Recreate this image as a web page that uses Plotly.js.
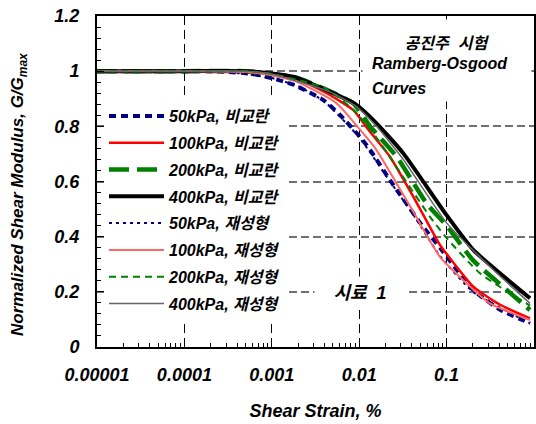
<!DOCTYPE html>
<html><head><meta charset="utf-8">
<script src="https://cdn.plot.ly/plotly-3.0.1.min.js"></script>
<style>html,body{margin:0;padding:0;background:#fff}#chart{width:536px;height:424px}</style>
</head><body><div id="chart"></div>
<script>
// ---- data (shear strain in %, G/Gmax) ----
const names = ["50kPa, 비교란","100kPa, 비교란","200kPa, 비교란","400kPa, 비교란",
               "50kPa, 재성형","100kPa, 재성형","200kPa, 재성형","400kPa, 재성형"];

const strain50U  = [0.00001,0.0001,0.0003,0.0006,0.001,0.0018,0.0039,0.006,0.0102,0.0133,0.0225,0.0416,0.054,0.084,0.2,0.41,0.9];
const g50U       = [1,1,0.998,0.99,0.975,0.95,0.895,0.842,0.762,0.715,0.605,0.485,0.435,0.36,0.207,0.135,0.086];

const strain100U = [0.00001,0.0001,0.0005,0.001,0.002,0.00425,0.00856,0.0133,0.0225,0.0416,0.0705,0.084,0.202,0.4,0.9];
const g100U      = [1,1,0.998,0.99,0.97,0.92,0.859,0.78,0.69,0.545,0.412,0.37,0.219,0.155,0.104];

const strain200U = [0.00001,0.0001,0.0005,0.001,0.002,0.00425,0.00856,0.0133,0.0268,0.0592,0.1,0.2,0.487,0.9];
const g200U      = [1,1,1,0.99,0.975,0.932,0.884,0.80,0.69,0.52,0.44,0.315,0.207,0.134];

const strain400U = [0.00001,0.0001,0.0005,0.001,0.00176,0.00463,0.00936,0.0158,0.032,0.1,0.202,0.408,0.9];
const g400U      = [1,1,1,0.992,0.98,0.926,0.877,0.811,0.702,0.478,0.352,0.267,0.177];

const strain50R  = [0.00001,0.0001,0.0003,0.001,0.002,0.004,0.01,0.0225,0.0416,0.084,0.2,0.9];
const g50R       = [1,1,0.998,0.975,0.945,0.89,0.76,0.60,0.48,0.33,0.2,0.086];

const strain100R = [0.00001,0.0001,0.0005,0.001,0.002,0.0055,0.011,0.0158,0.0416,0.084,0.314,0.9];
const g100R      = [1,1,0.997,0.985,0.96,0.884,0.776,0.714,0.49,0.327,0.158,0.098];

const strain200R = [0.00001,0.0001,0.0005,0.001,0.004,0.00856,0.0145,0.0245,0.0646,0.1,0.241,0.9];
const g200R      = [1,1,1,0.99,0.94,0.86,0.775,0.67,0.472,0.395,0.267,0.15];

const strain400R = [0.00001,0.0001,0.0005,0.001,0.00463,0.0094,0.0158,0.032,0.1,0.314,0.9];
const g400R      = [1,1,1,0.99,0.925,0.87,0.80,0.68,0.45,0.291,0.158];

const xTickVals  = [0.00001,0.0001,0.001,0.01,0.1,1];
const xTickText  = ["0.00001","0.0001","0.001","0.01","0.1","1"];
const yTickVals  = [0,0.2,0.4,0.6,0.8,1,1.2];
const yTickText  = ["0","0.2","0.4","0.6","0.8","1","1.2"];

// ---- styles ----
const FONT = "Liberation Sans, Arial, Noto Sans CJK KR, sans-serif";
const styles = [
  {color:"#000080", width:4,   dash:"7px,5px"},
  {color:"#ff0000", width:2.5, dash:"solid"},
  {color:"#008000", width:4.5, dash:"20px,8px"},
  {color:"#000000", width:4,   dash:"solid"},
  {color:"#000080", width:2,   dash:"3px,4px"},
  {color:"#ff6666", width:2,   dash:"solid"},
  {color:"#008000", width:2,   dash:"7px,5px"},
  {color:"#666666", width:1.5, dash:"solid"}
];
const xs = [strain50U,strain100U,strain200U,strain400U,strain50R,strain100R,strain200R,strain400R];
const ys = [g50U,g100U,g200U,g400U,g50R,g100R,g200R,g400R];

const traces = names.map((n,i)=>({
  type:"scatter", mode:"lines", name:n, x:xs[i], y:ys[i],
  line:{color:styles[i].color, width:styles[i].width, dash:styles[i].dash, shape:"spline", smoothing:0.5},
  legendgroup:"g"+i
}));

const minorX = [];
for (let k=-5;k<0;k++) for (let m=2;m<=9;m++) minorX.push(m*Math.pow(10,k));

const W=536,H=424,ML=97,MR=2,MT=16,MB=77;
const pw=W-ML-MR, ph=H-MT-MB;
const px = v=>(v-ML)/pw, py = v=>(H-MB-v)/ph;

const annFont = (s)=>({family:FONT,size:s,color:"#000",weight:"bold",style:"italic"});

const layout = {
  width:W, height:H, margin:{l:ML,r:MR,t:MT,b:MB},
  paper_bgcolor:"#fff", plot_bgcolor:"#fff",
  showlegend:true,
  legend:{x:px(104), y:py(99), xanchor:"left", yanchor:"top", bgcolor:"#fff",
          font:{family:FONT,size:16,color:"#000",weight:"bold",style:"italic"},
          itemwidth:55, tracegroupgap:3, traceorder:"grouped"},
  xaxis:{type:"log", range:[-5,0], tickmode:"array", tickvals:xTickVals, ticktext:xTickText,
         ticks:"inside", ticklen:7, tickwidth:1, tickcolor:"#000",
         minor:{tickmode:"array", tickvals:minorX, ticks:"inside", ticklen:4, tickcolor:"#000", showgrid:false},
         showline:true, linecolor:"#000", linewidth:2, mirror:true,
         showgrid:true, gridcolor:"#000", gridwidth:1, griddash:"9px,5px",
         tickfont:annFont(18), ticklabelstandoff:10,
         title:{text:"Shear Strain, %", font:annFont(18), standoff:21}},
  yaxis:{range:[0,1.2], tickmode:"array", tickvals:yTickVals, ticktext:yTickText,
         ticks:"inside", ticklen:7, tickwidth:1, tickcolor:"#000",
         minor:{dtick:0.04, ticks:"inside", ticklen:4, tickcolor:"#000", showgrid:false},
         showline:true, linecolor:"#000", linewidth:2, mirror:true,
         showgrid:true, gridcolor:"#707070", gridwidth:2, griddash:"8px,4px", zeroline:false,
         tickfont:annFont(18), ticklabelstandoff:12},
  annotations:[
    {xref:"paper",yref:"paper",x:px(19),y:py(194),xanchor:"center",yanchor:"middle",textangle:-90,
     text:"Normalized Shear Modulus, G/G<sub>max</sub>",showarrow:false,font:annFont(17)},
    {xref:"paper",yref:"paper",x:px(362),y:py(36),xanchor:"left",yanchor:"middle",width:168,height:32,align:"center",valign:"bottom",
     text:"공진주  시험",showarrow:false,font:annFont(16),bgcolor:"#fff",borderpad:0},
    {xref:"paper",yref:"paper",x:px(362),y:py(63),xanchor:"left",yanchor:"middle",width:168,height:24,align:"left",
     text:"  Ramberg-Osgood",showarrow:false,font:annFont(16),bgcolor:"#fff",borderpad:0},
    {xref:"paper",yref:"paper",x:px(362),y:py(88),xanchor:"left",yanchor:"middle",width:168,height:26,align:"left",
     text:"  Curves",showarrow:false,font:annFont(16),bgcolor:"#fff",borderpad:0},
    {xref:"paper",yref:"paper",x:px(360),y:py(293),xanchor:"center",yanchor:"middle",width:88,height:30,
     text:"시료  1",showarrow:false,font:annFont(18),bgcolor:"#fff"}
  ]
};

Plotly.newPlot("chart", traces, layout, {displayModeBar:false, staticPlot:true});
</script>
</body></html>
